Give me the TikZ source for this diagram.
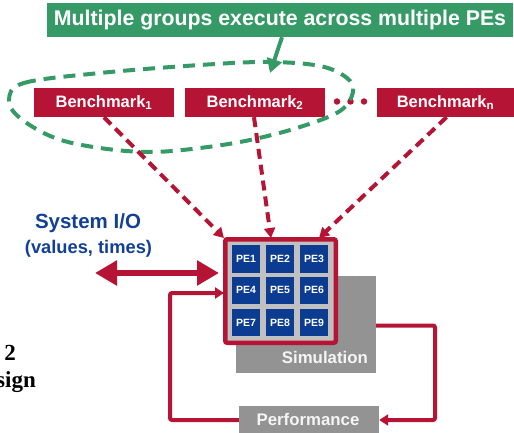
\documentclass[tikz,border=0pt]{standalone}
\usepackage{fontspec}
\setmainfont{Liberation Sans}
\newfontfamily\serifb{Liberation Serif}
\usetikzlibrary{arrows.meta}
\definecolor{grn}{RGB}{53,154,102}
\definecolor{crim}{RGB}{182,20,52}
\definecolor{peblue}{RGB}{12,60,145}
\definecolor{txtblue}{RGB}{18,64,150}
\definecolor{simgray}{RGB}{147,147,147}
\definecolor{gridgray}{RGB}{192,192,192}
\begin{document}
\begin{tikzpicture}[x=1pt,y=-1pt,
  bench/.style={fill=crim, text=white, minimum height=29pt, inner sep=0pt, font=\fontsize{16.5}{18}\selectfont\bfseries},
  pe/.style={fill=peblue, text=white, minimum width=28pt, minimum height=27pt, inner sep=0pt, font=\fontsize{10.5}{12}\selectfont\bfseries},
  grayblk/.style={fill=simgray, inner sep=0pt},
  graytext/.style={text=white!92!gray, inner sep=0pt, font=\fontsize{16.8}{18}\selectfont\bfseries},
  redarr/.style={crim, line width=4pt, dash pattern=on 10pt off 6pt, -{Triangle[length=10pt,width=11pt]}},
  fb/.style={crim, line width=4pt, rounded corners=2pt, -{Triangle[length=9pt,width=11pt]}},
  bluetext/.style={text=txtblue, inner sep=0pt},
  dotc/.style={circle, fill=crim, minimum size=6.5pt, inner sep=0pt},
  serift/.style={anchor=base east, inner sep=0pt, font=\serifb\fontsize{23}{26}\selectfont\bfseries}]
\useasboundingbox (0,0) rectangle (514,433);

% banner
\node[fill=grn, text=white, minimum width=466pt, minimum height=34pt, inner sep=0pt,
      font=\fontsize{21.3}{24}\selectfont\bfseries] (banner) at (280,20) {Multiple groups execute across multiple PEs};

% benchmarks
\node[bench, minimum width=140pt] (b1) at (104,102.5) {Benchmark\textsubscript{1}};
\node[bench, minimum width=140pt] (b2) at (255,102.5) {Benchmark\textsubscript{2}};
\node[bench, minimum width=137pt] (bn) at (445.5,102.5) {Benchmark\textsubscript{n}};
\node[dotc] (d1) at (337,101.5) {};
\node[dotc] (d2) at (350.5,101.5) {};
\node[dotc] (d3) at (364,101.5) {};

% green dashed loop
\draw[grn, line width=4pt, dash pattern=on 12pt off 8pt]
  plot[smooth cycle, tension=0.6] coordinates {
   (9,100) (24,83) (100,73) (200,65) (268,62) (320,66) (347,78) (353,92)
   (340,111) (300,127) (250,140) (200,148) (150,152) (100,148) (55,138) (20,118)};

% green arrow
\coordinate (gtip) at (270,73);
\draw[grn, line width=4pt, -{Triangle[length=14pt,width=15pt]}] ([xshift=2pt]banner.south) -- (gtip);

% simulation box
\node[grayblk, minimum width=140pt, minimum height=97pt] (sim) at (306,324.5) {};
\node[graytext, anchor=east] (simlbl) at (368,357) {Simulation};

% PE grid
\node[fill=gridgray, draw=crim, line width=4.5pt, rounded corners=2pt,
      minimum width=110.5pt, minimum height=103.5pt, inner sep=0pt] (grid) at (280.5,291) {};
\node[pe, minimum height=28pt] (pe1) at (246,259) {PE1};
\node[pe, minimum height=28pt] (pe2) at (280,259) {PE2};
\node[pe, minimum height=28pt] (pe3) at (314,259) {PE3};
\node[pe] (pe4) at (246,290) {PE4};
\node[pe] (pe5) at (280,290) {PE5};
\node[pe] (pe6) at (314,290) {PE6};
\node[pe] (pe7) at (246,322.5) {PE7};
\node[pe] (pe8) at (280,322.5) {PE8};
\node[pe] (pe9) at (314,322.5) {PE9};

% performance box
\node[grayblk, minimum width=140pt, minimum height=28pt] (perf) at (309,420) {};
\node[graytext] (perflbl) at (308,419) {Performance};

% dashed arrows
\coordinate (t1) at (224,238);
\coordinate (t2) at (271,238);
\coordinate (t3) at (319,238);
\draw[redarr] (b1.south) -- (t1);
\draw[redarr] ([xshift=-1pt]b2.south) -- (t2);
\draw[redarr] ([xshift=1pt]bn.south) -- (t3);

% feedback
\coordinate (sout) at (376,325.5);
\coordinate (gin) at (224,293);
\draw[fb] (sout) -- (435,325.5) |- (perf.east);
\draw[fb] (perf.west) -- (170,420) |- (gin);

% system I/O
\node[bluetext, font=\fontsize{20.5}{22}\selectfont\bfseries] (sio) at (88,223.5) {System I/O};
\node[bluetext, font=\fontsize{18.3}{20}\selectfont\bfseries] (vt) at (88.5,249) {(values, times)};
\coordinate (ioL) at (95,273);
\coordinate (ioR) at (219,273);
\draw[crim, line width=6.5pt, {Triangle[length=22pt,width=24pt]}-{Triangle[length=22pt,width=24pt]}] (ioL) -- (ioR);

% cut-off serif text
\node[serift] (two) at (16,360) {2};
\node[serift] (sign) at (36,387) {sign};
\end{tikzpicture}
\end{document}
